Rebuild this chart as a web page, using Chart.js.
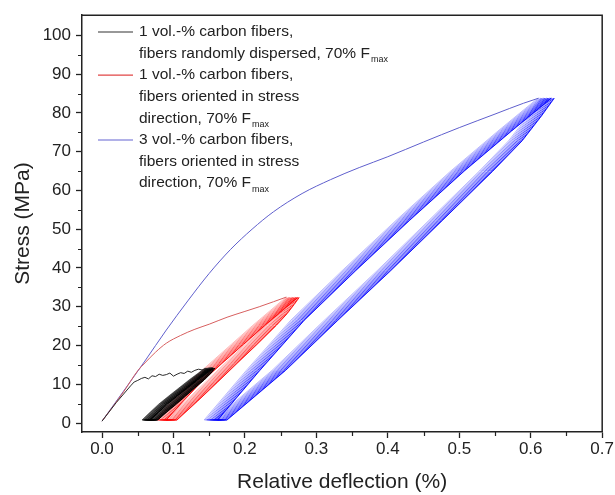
<!DOCTYPE html>
<html>
<head>
<meta charset="utf-8">
<script src="https://cdn.jsdelivr.net/npm/chart.js@4.4.1/dist/chart.umd.min.js"></script>
<style>html,body{margin:0;padding:0;background:#fff}</style>
</head>
<body>
<canvas id="c" width="615" height="495"></canvas>
<script>
// axis ticks
var xTicks = [0, 0.1, 0.2, 0.3, 0.4, 0.5, 0.6, 0.7];
var yTicks = [0, 10, 20, 30, 40, 50, 60, 70, 80, 90, 100];
var xMinor = [0.05, 0.15, 0.25, 0.35, 0.45, 0.55, 0.65];
var yMinor = [5, 15, 25, 35, 45, 55, 65, 75, 85, 95];

// first loading curves
var blueVirginX = [0, 0.03, 0.06, 0.09, 0.12, 0.15, 0.18, 0.21, 0.24, 0.28, 0.32, 0.36, 0.40, 0.45, 0.50, 0.55, 0.59, 0.611];
var blueVirginY = [0.5, 8.2, 16, 24, 31.5, 38.6, 44.8, 50.0, 54.5, 59.2, 62.8, 65.9, 68.7, 72.5, 76.2, 79.7, 82.5, 83.8];
var redVirginX = [0, 0.03, 0.05, 0.06, 0.075, 0.09, 0.11, 0.13, 0.15, 0.175, 0.20, 0.22, 0.24, 0.258];
var redVirginY = [0.5, 8, 13.5, 15.5, 18.3, 20.6, 22.6, 24.2, 25.5, 27.3, 28.8, 30, 31.3, 32.5];
var blackVirginX = [0, 0.02, 0.04, 0.045, 0.05, 0.055, 0.06, 0.065, 0.07, 0.075, 0.08, 0.085, 0.09, 0.095, 0.10, 0.105, 0.11, 0.115, 0.12, 0.125, 0.13, 0.135, 0.14, 0.145, 0.15, 0.155];
var blackVirginY = [0.5, 5.3, 9.6, 10.6, 11.0, 11.5, 11.8, 11.4, 12.2, 12.0, 12.6, 12.3, 12.5, 12.9, 12.1, 12.6, 13.0, 12.8, 13.4, 13.1, 13.6, 13.9, 13.7, 14.0, 14.2, 14.3];

// cyclic loops: unloading branch then reloading branch, centre of each band
var blueUnloadX = [0.624, 0.606, 0.579, 0.538, 0.467, 0.395, 0.321, 0.248, 0.166];
var blueUnloadY = [83.8, 79.2, 72.8, 65.0, 52.2, 39.3, 26.5, 13.6, 0.8];
var blueLoadX = [0.153, 0.212, 0.274, 0.346, 0.421, 0.498, 0.564, 0.620];
var blueLoadY = [0.8, 13.6, 26.5, 39.3, 52.2, 65.0, 75.3, 83.8];
var blueShift = [-0.010, -0.008, -0.006, -0.004, -0.002, 0, 0.002, 0.004, 0.006, 0.008, 0.009];

var redUnloadX = [0.268, 0.261, 0.251, 0.236, 0.209, 0.181, 0.154, 0.126, 0.097];
var redUnloadY = [32.4, 30.6, 28.2, 25.2, 20.3, 15.4, 10.6, 5.7, 0.8];
var redLoadX = [0.082, 0.106, 0.131, 0.160, 0.190, 0.220, 0.245, 0.266];
var redLoadY = [0.8, 5.7, 10.6, 15.4, 20.3, 25.2, 29.1, 32.4];
var redShift = [-0.009, -0.007, -0.005, -0.003, -0.001, 0.001, 0.003, 0.005, 0.007, 0.008];

var blackUnloadX = [0.152, 0.149, 0.144, 0.137, 0.124, 0.111, 0.098, 0.085, 0.072];
var blackUnloadY = [14.2, 13.4, 12.4, 11.1, 9.1, 7.0, 4.9, 2.9, 0.8];
var blackLoadX = [0.062, 0.0735, 0.0856, 0.0995, 0.1137, 0.1279, 0.140, 0.150];
var blackLoadY = [0.8, 2.85, 4.92, 6.99, 9.06, 11.13, 12.79, 14.17];
var blackShift = [-0.006, -0.005, -0.004, -0.003, -0.002, -0.001, 0, 0.001, 0.002, 0.003, 0.004, 0.005, 0.006];

function pts(xs, ys, dx) {
    var out = [];
    for (var i = 0; i < xs.length; i++) out.push({x: xs[i] + (dx || 0), y: ys[i]});
    return out;
}

function loops(unX, unY, ldX, ldY, shifts, rgb, alpha0, width) {
    var sets = [];
    for (var k = 0; k < shifts.length; k++) {
        var a = alpha0 + (1 - alpha0) * k / (shifts.length - 1);
        sets.push({
            data: pts(unX, unY, shifts[k]).concat(pts(ldX, ldY, shifts[k])),
            borderColor: 'rgba(' + rgb + ',' + a.toFixed(2) + ')',
            borderWidth: width,
            pointRadius: 0,
            showLine: true
        });
    }
    return sets;
}

function curve(xs, ys, color, smooth) {
    return {data: pts(xs, ys), borderColor: color, borderWidth: 1, pointRadius: 0, showLine: true,
        cubicInterpolationMode: smooth ? 'monotone' : 'default'};
}

var datasets = [curve(blackVirginX, blackVirginY, '#2a2a2a', false)]
    .concat(loops(blackUnloadX, blackUnloadY, blackLoadX, blackLoadY, blackShift, '0,0,0', 0.55, 1))
    .concat([curve(redVirginX, redVirginY, 'rgb(215,95,95)', true)])
    .concat(loops(redUnloadX, redUnloadY, redLoadX, redLoadY, redShift, '255,0,0', 0.3, 0.9))
    .concat([curve(blueVirginX, blueVirginY, 'rgb(95,95,205)', true)])
    .concat(loops(blueUnloadX, blueUnloadY, blueLoadX, blueLoadY, blueShift, '0,0,255', 0.3, 0.9));

var legendItems = [
    {color: '#333', lines: ['1 vol.-% carbon fibers,', 'fibers randomly dispersed, 70% F']},
    {color: 'rgb(225,70,70)', lines: ['1 vol.-% carbon fibers,', 'fibers oriented in stress', 'direction, 70% F']},
    {color: 'rgb(100,100,210)', lines: ['3 vol.-% carbon fibers,', 'fibers oriented in stress', 'direction, 70% F']}
];

var FONT = '"Liberation Sans", Arial, sans-serif';
var INK = '#222';

var extras = {
    id: 'extras',
    afterDraw: function (chart) {
        var ctx = chart.ctx, a = chart.chartArea;
        var sx = chart.scales.x, sy = chart.scales.y;
        ctx.save();
        ctx.strokeStyle = INK;
        ctx.lineWidth = 1.5;
        ctx.beginPath();
        ctx.moveTo(a.left, a.top);
        ctx.lineTo(a.right, a.top);
        ctx.lineTo(a.right, a.bottom);
        ctx.stroke();
        ctx.lineWidth = 1.2;
        ctx.beginPath();
        xMinor.forEach(function (v) {
            var p = Math.round(sx.getPixelForValue(v)) + 0.5;
            ctx.moveTo(p, a.bottom);
            ctx.lineTo(p, a.bottom + 4);
        });
        yMinor.forEach(function (v) {
            var p = Math.round(sy.getPixelForValue(v)) + 0.5;
            ctx.moveTo(a.left, p);
            ctx.lineTo(a.left - 4, p);
        });
        ctx.stroke();

        // legend
        var y = 32, step = 21.6;
        ctx.textBaseline = 'middle';
        legendItems.forEach(function (it) {
            ctx.strokeStyle = it.color;
            ctx.lineWidth = 1.2;
            ctx.beginPath();
            ctx.moveTo(98, y);
            ctx.lineTo(133, y);
            ctx.stroke();
            it.lines.forEach(function (t, i) {
                ctx.fillStyle = INK;
                ctx.font = '15.5px ' + FONT;
                ctx.fillText(t, 139, y);
                if (i === it.lines.length - 1) {
                    var w = ctx.measureText(t).width;
                    ctx.font = '9px ' + FONT;
                    ctx.fillText('max', 139 + w + 1, y + 6);
                }
                y += step;
            });
        });
        ctx.restore();
    }
};

new Chart(document.getElementById('c'), {
    type: 'scatter',
    data: {datasets: datasets},
    options: {
        responsive: false,
        animation: false,
        layout: {padding: {top: 13, right: 10, left: 0, bottom: 0}},
        plugins: {legend: {display: false}, tooltip: {enabled: false}},
        scales: {
            x: {
                type: 'linear',
                min: -0.028,
                max: 0.7,
                afterBuildTicks: function (s) { s.ticks = xTicks.map(function (v) { return {value: v}; }); },
                afterFit: function (s) { s.height = 63; },
                ticks: {
                    callback: function (v) { return v.toFixed(1); },
                    font: {size: 17, family: FONT},
                    color: INK,
                    padding: 1,
                    maxRotation: 0,
                    autoSkip: false
                },
                grid: {drawOnChartArea: false, tickLength: 6, tickColor: INK, tickWidth: 1.3},
                border: {color: INK, width: 1.5},
                title: {display: true, text: 'Relative deflection (%)', font: {size: 21, family: FONT}, color: INK, padding: {top: 0, bottom: 0}}
            },
            y: {
                type: 'linear',
                min: -2.3,
                max: 105.2,
                afterBuildTicks: function (s) { s.ticks = yTicks.map(function (v) { return {value: v}; }); },
                afterFit: function (s) { s.width = 82; },
                ticks: {
                    font: {size: 17, family: FONT},
                    color: INK,
                    padding: 5,
                    autoSkip: false
                },
                grid: {drawOnChartArea: false, tickLength: 6, tickColor: INK, tickWidth: 1.3},
                border: {color: INK, width: 1.5},
                title: {display: true, text: 'Stress (MPa)', font: {size: 21, family: FONT}, color: INK, padding: {top: 11, bottom: 0}}
            }
        }
    },
    plugins: [extras]
});
</script>
</body>
</html>
